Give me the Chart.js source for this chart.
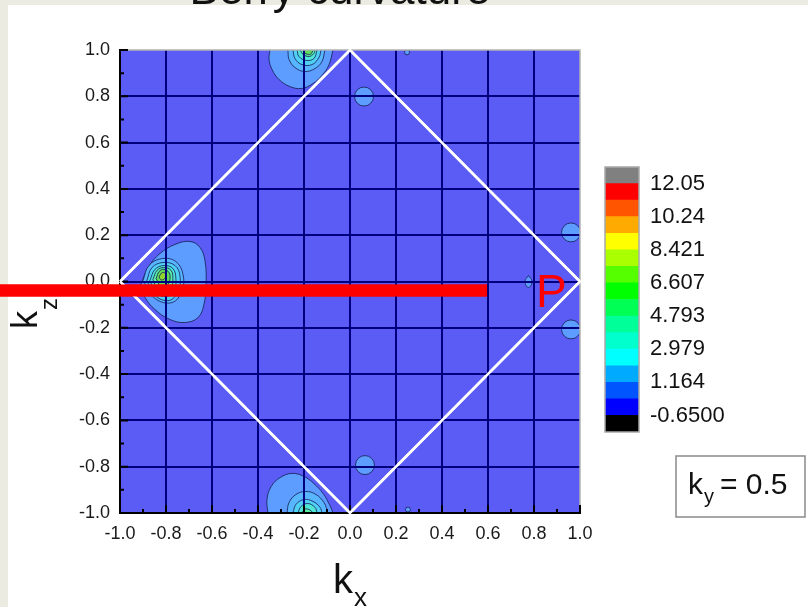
<!DOCTYPE html>
<html>
<head>
<meta charset="utf-8">
<script src="https://cdn.jsdelivr.net/npm/chart.js@4.4.1/dist/chart.umd.min.js"></script>
<style>
  html, body { margin: 0; padding: 0; width: 808px; height: 607px; overflow: hidden; background: #ecebe1; }
  #panel { position: absolute; left: 8px; top: 5px; width: 800px; height: 602px; background: #ffffff; }
  #main { position: absolute; left: 0; top: 0; }
  #bar { position: absolute; left: 600px; top: 160px; }
</style>
</head>
<body>
<div id="panel"></div>
<canvas id="main" width="808" height="607"></canvas>
<canvas id="bar" width="159" height="280"></canvas>
<script>
// ---- axes ----
const kxTicks = [-1.0, -0.8, -0.6, -0.4, -0.2, 0.0, 0.2, 0.4, 0.6, 0.8, 1.0];
const kxTickLabels = ['-1.0', '-0.8', '-0.6', '-0.4', '-0.2', '0.0', '0.2', '0.4', '0.6', '0.8', '1.0'];
const kzTicks = [-1.0, -0.8, -0.6, -0.4, -0.2, 0.0, 0.2, 0.4, 0.6, 0.8, 1.0];
const kzTickLabels = ['-1.0', '-0.8', '-0.6', '-0.4', '-0.2', '0.0', '0.2', '0.4', '0.6', '0.8', '1.0'];
const kxMinor = [-0.9, -0.7, -0.5, -0.3, -0.1, 0.1, 0.3, 0.5, 0.7, 0.9];
const kzMinor = [-0.9, -0.7, -0.5, -0.3, -0.1, 0.1, 0.3, 0.5, 0.7, 0.9];

// ---- contour lines (kx, kz), outermost level first ----
const peakLeft = [
  [[-0.909, -0.013], [-0.878, 0.060], [-0.826, 0.121], [-0.761, 0.160], [-0.696, 0.173], [-0.652, 0.147], [-0.630, 0.086],
   [-0.626, -0.013], [-0.635, -0.099], [-0.661, -0.156], [-0.717, -0.177], [-0.783, -0.164], [-0.848, -0.121], [-0.891, -0.069]],
  [[-0.900, 0.004], [-0.874, 0.069], [-0.817, 0.099], [-0.757, 0.086], [-0.726, 0.030], [-0.730, -0.039], [-0.774, -0.091], [-0.848, -0.073]],
  [[-0.883, 0.004], [-0.861, 0.060], [-0.813, 0.082], [-0.761, 0.069], [-0.739, 0.022], [-0.748, -0.043], [-0.787, -0.082], [-0.848, -0.060]],
  [[-0.870, 0.004], [-0.848, 0.052], [-0.809, 0.069], [-0.770, 0.056], [-0.757, 0.013], [-0.765, -0.039], [-0.800, -0.065], [-0.843, -0.048]],
  [[-0.857, 0.009], [-0.839, 0.048], [-0.809, 0.060], [-0.778, 0.048], [-0.770, 0.013], [-0.778, -0.026], [-0.809, -0.043], [-0.839, -0.030]],
  [[-0.843, 0.013], [-0.830, 0.043], [-0.809, 0.052], [-0.787, 0.039], [-0.783, 0.009], [-0.796, -0.017], [-0.822, -0.022]],
  [[-0.830, 0.020], [-0.820, 0.036], [-0.807, 0.038], [-0.801, 0.025], [-0.808, 0.010], [-0.823, 0.008]]
];
const peakTop = [
  [[-0.348, 1.0], [-0.352, 0.959], [-0.339, 0.916], [-0.309, 0.873], [-0.261, 0.842], [-0.209, 0.834], [-0.161, 0.855], [-0.122, 0.890], [-0.091, 0.937], [-0.074, 1.0]],
  [[-0.270, 1.0], [-0.265, 0.959], [-0.239, 0.924], [-0.196, 0.907], [-0.152, 0.920], [-0.122, 0.950], [-0.109, 1.0]],
  [[-0.248, 1.0], [-0.239, 0.963], [-0.209, 0.937], [-0.165, 0.937], [-0.135, 0.968], [-0.126, 1.0]],
  [[-0.230, 1.0], [-0.222, 0.972], [-0.191, 0.955], [-0.157, 0.963], [-0.143, 1.0]],
  [[-0.217, 1.0], [-0.204, 0.981], [-0.178, 0.972], [-0.157, 0.985], [-0.152, 1.0]],
  [[-0.204, 1.0], [-0.191, 0.983], [-0.170, 0.983], [-0.161, 1.0]]
];
const peakBottom = [
  [[-0.357, -1.0], [-0.361, -0.942], [-0.343, -0.886], [-0.304, -0.847], [-0.252, -0.829], [-0.200, -0.842], [-0.157, -0.873], [-0.117, -0.916], [-0.087, -0.968], [-0.074, -1.0]],
  [[-0.274, -1.0], [-0.265, -0.955], [-0.235, -0.920], [-0.191, -0.907], [-0.148, -0.920], [-0.113, -0.955], [-0.096, -1.0]],
  [[-0.248, -1.0], [-0.235, -0.963], [-0.200, -0.942], [-0.161, -0.950], [-0.130, -0.976], [-0.122, -1.0]],
  [[-0.226, -1.0], [-0.213, -0.972], [-0.183, -0.959], [-0.152, -0.976], [-0.143, -1.0]],
  [[-0.209, -1.0], [-0.196, -0.983], [-0.174, -0.987], [-0.161, -1.0]]
];
const pocketNearP = [[0.776, 0.026], [0.791, 0.0], [0.776, -0.026], [0.761, 0.0]];
const pockets = [[0.061, 0.799], [0.065, -0.793], [0.961, 0.212], [0.961, -0.207]];
const tinyPockets = [[0.248, 0.99], [0.252, -0.985]];

// ---- first Brillouin zone edge and cut line ----
const zoneEdge = [[-1, 0], [0, 1], [1, 0], [0, -1], [-1, 0]];
const cutLine = [[-1.53, -0.039], [0.596, -0.039]];

// ---- colour scale ----
const levelColors = ['#000000', '#0000ff', '#0055ff', '#00aaff', '#00ffff', '#00ffcc', '#00ff99', '#00ff55',
                     '#00ff00', '#55ff00', '#aaff00', '#ffff00', '#ffaa00', '#ff5500', '#ff0000', '#808080'];
const levelBounds = [-1.557, -0.65, 0.257, 1.164, 2.071, 2.979, 3.886, 4.793, 5.700, 6.607, 7.514, 8.421, 9.328, 10.24, 11.14, 12.05, 12.957];
const legendTickValues = [-0.65, 1.164, 2.979, 4.793, 6.607, 8.421, 10.24, 12.05];
const legendTickLabels = ['-0.6500', '1.164', '2.979', '4.793', '6.607', '8.421', '10.24', '12.05'];

const FONT = "'Liberation Sans', Arial, sans-serif";
const ringFill = ['#5c9dff', '#58b6ff', '#4fd1f5', '#4fe6d6', '#58eca4', '#5fdc58', '#8fd630'];
const contourStroke = 'rgba(25, 35, 90, 0.85)';

const toXY = pts => pts.map(p => ({ x: p[0], y: p[1] }));

function ringSets(peak, closed) {
  return peak.map((ring, i) => ({
    data: toXY(closed ? ring.concat([ring[0]]) : ring),
    showLine: true,
    fill: 'shape',
    backgroundColor: ringFill[i],
    borderColor: contourStroke,
    borderWidth: 1,
    pointRadius: 0,
    tension: 0.4,
    order: 50 - i
  }));
}

const datasets = [
  ...ringSets(peakLeft, true),
  ...ringSets(peakTop, false),
  ...ringSets(peakBottom, false),
  {
    data: toXY(pocketNearP.concat([pocketNearP[0]])),
    showLine: true, fill: 'shape', backgroundColor: ringFill[0], borderColor: contourStroke,
    borderWidth: 1, pointRadius: 0, tension: 0.5, order: 50
  },
  {
    data: toXY(pockets), showLine: false, pointRadius: 9.5, pointBackgroundColor: ringFill[0],
    pointBorderColor: contourStroke, pointBorderWidth: 1, order: 50
  },
  {
    data: toXY(tinyPockets), showLine: false, pointRadius: 2.5, pointBackgroundColor: ringFill[0],
    pointBorderColor: contourStroke, pointBorderWidth: 1, order: 50
  },
  {
    data: toXY(zoneEdge), showLine: true, fill: false, borderColor: '#ffffff', borderWidth: 2.5,
    pointRadius: 0, tension: 0, order: 2, redrawOnTop: true
  },
  {
    data: toXY(cutLine), showLine: true, fill: false, borderColor: '#ff0000', borderWidth: 12,
    borderCapStyle: 'butt', pointRadius: 0, tension: 0, order: 1, clip: false, redrawOnTop: true
  }
];

const isEdge = v => Math.abs(Math.abs(v) - 1) < 1e-9;

const framePlugin = {
  id: 'frame',
  beforeDraw(chart) {
    const { ctx, chartArea: a } = chart;
    ctx.save();
    ctx.fillStyle = '#5b5bf6';
    ctx.fillRect(a.left, a.top, a.right - a.left, a.bottom - a.top);
    ctx.restore();
  },
  afterDraw(chart) {
    const { ctx, chartArea: a, scales } = chart;
    const sx = scales.x, sy = scales.y;
    ctx.save();
    // light frame on the top and right
    ctx.strokeStyle = '#b4b4b4';
    ctx.lineWidth = 1.5;
    ctx.beginPath();
    ctx.moveTo(a.left, a.top); ctx.lineTo(a.right, a.top); ctx.lineTo(a.right, a.bottom);
    ctx.stroke();
    // black axis lines on the left and bottom with inward ticks
    ctx.strokeStyle = '#000000';
    ctx.lineWidth = 2;
    ctx.beginPath();
    ctx.moveTo(a.left, a.top - 1); ctx.lineTo(a.left, a.bottom); ctx.lineTo(a.right + 1, a.bottom);
    kxTicks.forEach(v => { const x = sx.getPixelForValue(v); ctx.moveTo(x, a.bottom); ctx.lineTo(x, a.bottom - 8); });
    kxMinor.forEach(v => { const x = sx.getPixelForValue(v); ctx.moveTo(x, a.bottom); ctx.lineTo(x, a.bottom - 4); });
    kzTicks.forEach(v => { const y = sy.getPixelForValue(v); ctx.moveTo(a.left, y); ctx.lineTo(a.left + 8, y); });
    kzMinor.forEach(v => { const y = sy.getPixelForValue(v); ctx.moveTo(a.left, y); ctx.lineTo(a.left + 4, y); });
    ctx.stroke();

    // title, axis names and annotations
    ctx.fillStyle = '#111111';
    ctx.textBaseline = 'alphabetic';
    ctx.textAlign = 'center';
    ctx.font = `44px ${FONT}`;
    ctx.fillText('Berry curvature', 340, 4);

    ctx.textAlign = 'left';
    ctx.font = `40px ${FONT}`;
    ctx.fillText('k', 333, 593);
    ctx.font = `26px ${FONT}`;
    ctx.fillText('x', 354, 606);

    ctx.save();
    ctx.translate(37, 329);
    ctx.rotate(-Math.PI / 2);
    ctx.font = `36px ${FONT}`;
    ctx.fillText('k', 0, 0);
    ctx.font = `24px ${FONT}`;
    ctx.fillText('z', 19, 20);
    ctx.restore();

    ctx.fillStyle = '#ff0000';
    ctx.font = `46px ${FONT}`;
    ctx.fillText('P', 536, 307);

    ctx.fillStyle = '#ffffff';
    ctx.fillRect(676, 456, 129, 61);
    ctx.strokeStyle = '#8a8a8a';
    ctx.lineWidth = 1.5;
    ctx.strokeRect(676, 456, 129, 61);
    ctx.fillStyle = '#111111';
    ctx.font = `30px ${FONT}`;
    ctx.fillText('k', 688, 494);
    ctx.font = `20px ${FONT}`;
    ctx.fillText('y', 704, 503);
    ctx.font = `30px ${FONT}`;
    ctx.fillText('= 0.5', 720, 494);
    ctx.restore();

    // zone edge and cut line sit above the grid
    chart.data.datasets.forEach((ds, i) => {
      if (ds.redrawOnTop) chart.getDatasetMeta(i).controller.draw();
    });
  }
};

new Chart(document.getElementById('main'), {
  type: 'scatter',
  data: { datasets },
  options: {
    responsive: false,
    animation: false,
    layout: { padding: { left: 0, top: 50, right: 228, bottom: 0 } },
    plugins: { legend: { display: false }, tooltip: { enabled: false }, title: { display: false } },
    scales: {
      x: {
        type: 'linear', min: -1, max: 1,
        afterBuildTicks: s => { s.ticks = kxTicks.map(v => ({ value: v })); },
        afterFit: s => { s.height = 94; },
        ticks: { callback: (v, i) => kxTickLabels[i], font: { family: FONT, size: 18 }, color: '#1a1a1a', padding: 10, maxRotation: 0, autoSkip: false },
        grid: { color: c => (c.tick && isEdge(c.tick.value)) ? 'rgba(0,0,0,0)' : '#00007f', lineWidth: 2, drawTicks: false, z: 1 },
        border: { display: false }
      },
      y: {
        type: 'linear', min: -1, max: 1,
        afterBuildTicks: s => { s.ticks = kzTicks.map(v => ({ value: v })); },
        afterFit: s => { s.width = 120; },
        ticks: { callback: (v, i) => kzTickLabels[i], font: { family: FONT, size: 18 }, color: '#1a1a1a', padding: 10, autoSkip: false },
        grid: { color: c => (c.tick && isEdge(c.tick.value)) ? 'rgba(0,0,0,0)' : '#00007f', lineWidth: 2, drawTicks: false, z: 1 },
        border: { display: false }
      }
    }
  },
  plugins: [framePlugin]
});

// ---- colour bar ----
const barFrame = {
  id: 'barFrame',
  afterDatasetsDraw(chart) {
    const { ctx, chartArea: a } = chart;
    ctx.save();
    ctx.strokeStyle = '#a8a8a8';
    ctx.lineWidth = 1.5;
    ctx.strokeRect(a.left, a.top, a.right - a.left, a.bottom - a.top);
    ctx.restore();
  }
};

new Chart(document.getElementById('bar'), {
  type: 'bar',
  data: {
    labels: [''],
    datasets: levelColors.map((c, i) => ({
      data: [[levelBounds[i], levelBounds[i + 1]]],
      backgroundColor: c, borderWidth: 0, barPercentage: 1, categoryPercentage: 1, grouped: false
    }))
  },
  options: {
    responsive: false,
    animation: false,
    layout: { padding: { left: 5, top: 7, bottom: 8, right: 0 } },
    plugins: { legend: { display: false }, tooltip: { enabled: false } },
    scales: {
      x: { display: false },
      y: {
        position: 'right', min: levelBounds[0], max: levelBounds[levelBounds.length - 1],
        afterBuildTicks: s => { s.ticks = legendTickValues.map(v => ({ value: v })); },
        afterFit: s => { s.width = 120; s.paddingTop = 0; s.paddingBottom = 0; },
        ticks: { callback: (v, i) => legendTickLabels[i], font: { family: FONT, size: 22 }, color: '#111111', padding: 11, autoSkip: false },
        grid: { display: false, drawTicks: false },
        border: { display: false }
      }
    }
  },
  plugins: [barFrame]
});
</script>
</body>
</html>
